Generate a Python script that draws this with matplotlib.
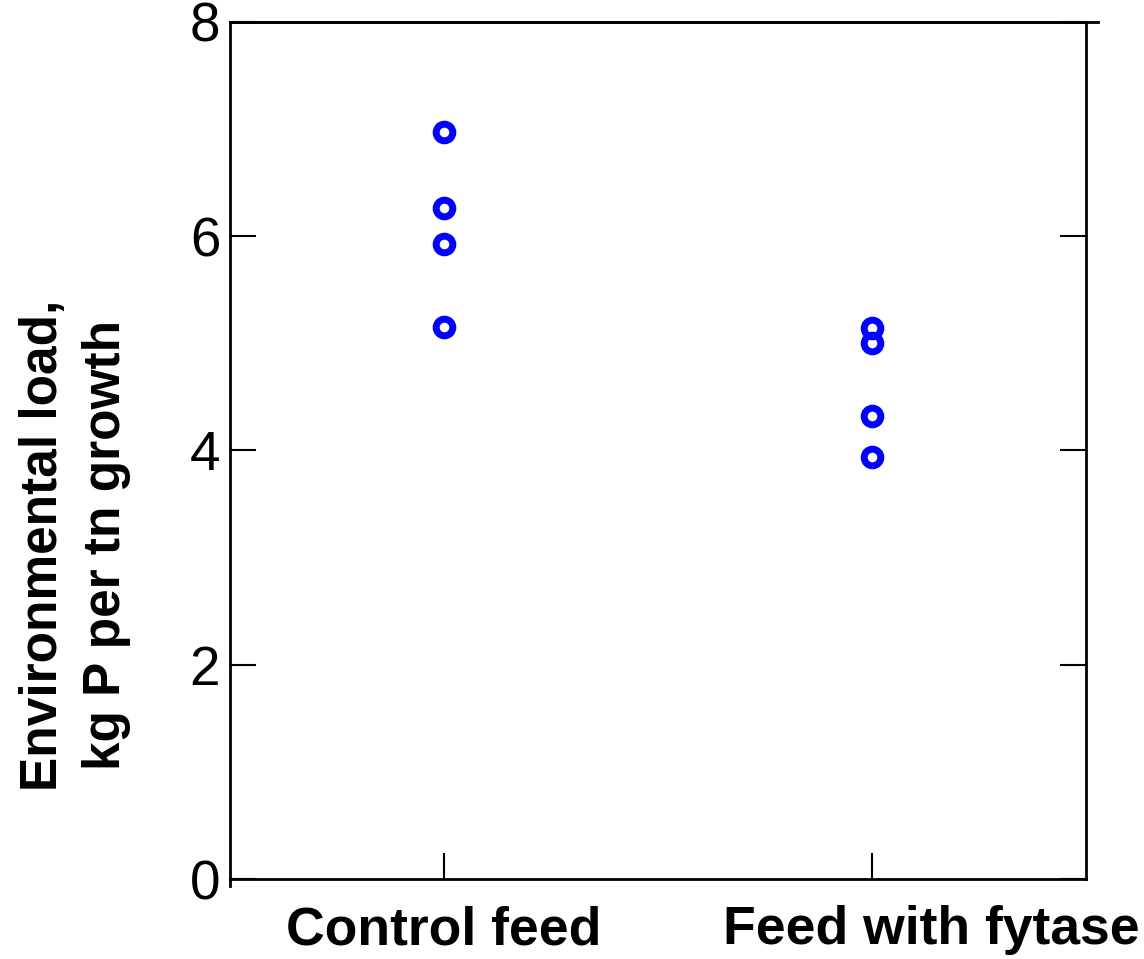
import matplotlib.pyplot as plt
from matplotlib.transforms import ScaledTranslation

plt.rcParams['font.family'] = ['Liberation Sans', 'DejaVu Sans']

categories = ['Control feed', 'Feed with fytase']
control = [6.97, 6.26, 5.93, 5.15]
fytase = [5.14, 5.00, 4.32, 3.94]
yticks = [0, 2, 4, 6, 8]

fig = plt.figure(figsize=(11.44, 9.59), dpi=100)
ax = fig.add_axes([0.201, 0.0834, 0.748, 0.8937])

for i, vals in enumerate([control, fytase]):
    ax.plot([i] * len(vals), vals, 'o', ms=12, mfc='none', mec='#0000ff', mew=5, ls='none')

ax.set_xlim(-0.5, 1.5)
ax.set_ylim(0, 8)
ax.set_xticks([0, 1])
ax.set_xticklabels(categories, fontsize=38.5, fontweight='bold')
ax.set_yticks(yticks)
ax.set_yticklabels([str(t) for t in yticks], fontsize=39.5)

ax.tick_params(axis='y', direction='in', length=19, width=1.5, right=True, pad=7)
ax.tick_params(axis='x', direction='in', length=19, width=1.5, pad=19)

# second category label sits further right in the original
lab = ax.get_xticklabels()[1]
lab.set_transform(lab.get_transform() + ScaledTranslation(0.6, 0, fig.dpi_scale_trans))

for s in ax.spines.values():
    s.set_linewidth(2)

# top line runs a bit past the right spine, left spine a bit below zero
ax.plot([0, 1.015], [1, 1], transform=ax.transAxes, color='black', lw=2, clip_on=False)
ax.plot([0, 0], [0, -0.008], transform=ax.transAxes, color='black', lw=2, clip_on=False)

fig.text(0.0655, 1 - 545 / 959, 'Environmental load,\nkg P per tn growth',
         rotation=90, ha='center', va='center', fontsize=37, fontweight='bold',
         linespacing=1.38)

fig.savefig('out.png', dpi=100)
